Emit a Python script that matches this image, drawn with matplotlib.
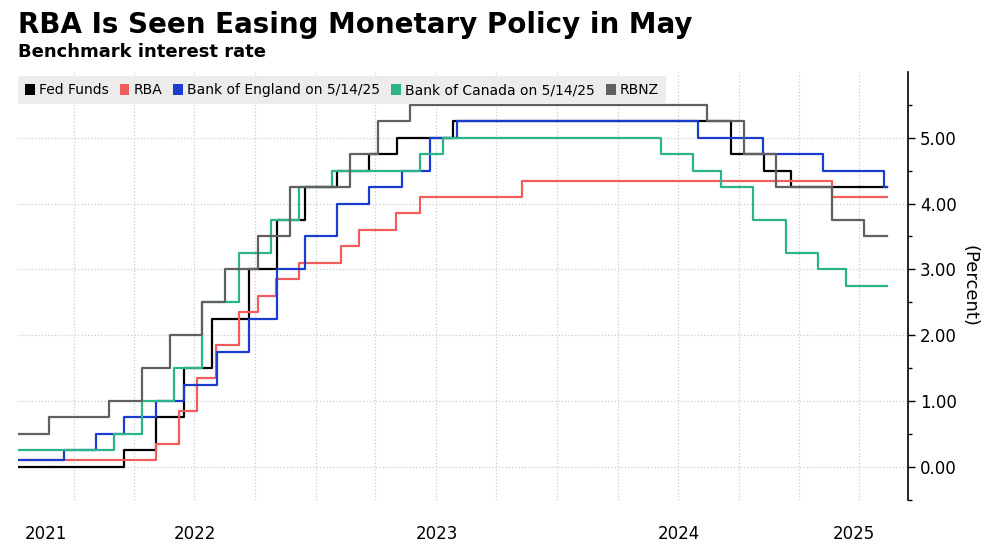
import matplotlib
matplotlib.use("Agg")
import matplotlib.pyplot as plt
import matplotlib.dates as mdates
from matplotlib.patches import Patch
import pandas as pd

start = "2021-10-08"
end = "2025-05-14"

fed_dates = [start, "2022-03-17", "2022-05-05", "2022-06-16", "2022-07-28", "2022-09-22", "2022-11-03",
             "2022-12-15", "2023-02-02", "2023-03-23", "2023-05-04", "2023-07-27", "2024-09-19",
             "2024-11-08", "2024-12-19", end]
fed_vals = [0, 0.25, 0.75, 1.5, 2.25, 3.0, 3.75, 4.25, 4.5, 4.75, 5.0, 5.25, 4.75, 4.5, 4.25, 4.25]

rba_dates = [start, "2022-05-04", "2022-06-08", "2022-07-06", "2022-08-03", "2022-09-07", "2022-10-05",
             "2022-11-02", "2022-12-07", "2023-02-08", "2023-03-08", "2023-05-03", "2023-06-07",
             "2023-11-08", "2025-02-19", end]
rba_vals = [0.1, 0.35, 0.85, 1.35, 1.85, 2.35, 2.6, 2.85, 3.1, 3.35, 3.6, 3.85, 4.1, 4.35, 4.1, 4.1]

boe_dates = [start, "2021-12-16", "2022-02-03", "2022-03-17", "2022-05-05", "2022-06-16", "2022-08-04",
             "2022-09-22", "2022-11-03", "2022-12-15", "2023-02-02", "2023-03-23", "2023-05-11",
             "2023-06-22", "2023-08-03", "2024-08-01", "2024-11-07", "2025-02-06", "2025-05-08", end]
boe_vals = [0.1, 0.25, 0.5, 0.75, 1.0, 1.25, 1.75, 2.25, 3.0, 3.5, 4.0, 4.25, 4.5, 5.0, 5.25,
            5.0, 4.75, 4.5, 4.25, 4.25]

boc_dates = [start, "2022-03-02", "2022-04-13", "2022-06-01", "2022-07-13", "2022-09-07", "2022-10-26",
             "2022-12-07", "2023-01-25", "2023-06-07", "2023-07-12", "2024-06-05", "2024-07-24",
             "2024-09-04", "2024-10-23", "2024-12-11", "2025-01-29", "2025-03-12", end]
boc_vals = [0.25, 0.5, 1.0, 1.5, 2.5, 3.25, 3.75, 4.25, 4.5, 4.75, 5.0, 4.75, 4.5, 4.25, 3.75,
            3.25, 3.0, 2.75, 2.75]

rbnz_dates = [start, "2021-11-24", "2022-02-23", "2022-04-13", "2022-05-25", "2022-07-13", "2022-08-17",
              "2022-10-05", "2022-11-23", "2023-02-22", "2023-04-05", "2023-05-24", "2024-08-14",
              "2024-10-09", "2024-11-27", "2025-02-19", "2025-04-09", end]
rbnz_vals = [0.5, 0.75, 1.0, 1.5, 2.0, 2.5, 3.0, 3.5, 4.25, 4.75, 5.25, 5.5, 5.25, 4.75, 4.25,
             3.75, 3.5, 3.5]

series = [
    ("Fed Funds", fed_dates, fed_vals, "#000000"),
    ("RBA", rba_dates, rba_vals, "#f25c5c"),
    ("Bank of England on 5/14/25", boe_dates, boe_vals, "#1a3ccf"),
    ("Bank of Canada on 5/14/25", boc_dates, boc_vals, "#2bb38a"),
    ("RBNZ", rbnz_dates, rbnz_vals, "#606060"),
]
years = [2021, 2022, 2023, 2024, 2025]

fig = plt.figure(figsize=(10, 5.45), dpi=100)
fig.text(0.018, 0.955, "RBA Is Seen Easing Monetary Policy in May", fontsize=20, fontweight="bold", va="center")
fig.text(0.018, 0.905, "Benchmark interest rate", fontsize=13, fontweight="bold", va="center")
ax = fig.add_axes([0.018, 0.083, 0.89, 0.785])

for name, d, v, c in series:
    ax.plot(pd.to_datetime(d), v, drawstyle="steps-post", color=c, lw=1.6)

x0 = pd.Timestamp(start)
x1 = pd.Timestamp("2025-06-14")
ax.set_xlim(x0, x1)
ax.set_ylim(-0.5, 6.0)

ax.xaxis.set_major_locator(mdates.MonthLocator(bymonth=[1, 4, 7, 10]))
ax.xaxis.set_major_formatter(plt.NullFormatter())
ax.tick_params(axis="x", which="major", length=0)
centers, labels = [], []
for y in years:
    a = max(x0, pd.Timestamp(f"{y}-01-01"))
    b = min(x1, pd.Timestamp(f"{y+1}-01-01"))
    centers.append(mdates.date2num(a) / 2 + mdates.date2num(b) / 2)
    labels.append(str(y))
ax.set_xticks(centers, minor=True)
ax.set_xticklabels(labels, minor=True, fontsize=12)
ax.tick_params(axis="x", which="minor", length=0, pad=18)

ax.yaxis.tick_right()
ax.yaxis.set_label_position("right")
ax.set_yticks([0, 1, 2, 3, 4, 5])
ax.set_yticklabels([f"{t:.2f}" for t in [0, 1, 2, 3, 4, 5]], fontsize=12)
ax.set_yticks([-0.5, 0.5, 1.5, 2.5, 3.5, 4.5, 5.5], minor=True)
ax.tick_params(axis="y", which="major", direction="out", length=5, width=1)
ax.tick_params(axis="y", which="minor", direction="out", length=3, width=1)
ax.set_ylabel("(Percent)", rotation=270, labelpad=16, fontsize=13)

ax.grid(True, which="major", color="#cccccc", linestyle=":", lw=0.9)
for s in ["top", "left", "bottom"]:
    ax.spines[s].set_visible(False)
ax.spines["right"].set_linewidth(1.2)

handles = [Patch(facecolor=c, label=n) for n, d, v, c in series]
leg = ax.legend(handles=handles, loc="upper left", bbox_to_anchor=(0, 0.99), ncol=5, frameon=True,
                fontsize=10, handlelength=0.7, handleheight=0.9, handletextpad=0.3, columnspacing=0.8,
                borderaxespad=0, fancybox=False, borderpad=0.5)
leg.get_frame().set_facecolor("#ececec")
leg.get_frame().set_edgecolor("none")
leg.get_frame().set_alpha(1)

fig.savefig("out.png", dpi=100, facecolor="white")
